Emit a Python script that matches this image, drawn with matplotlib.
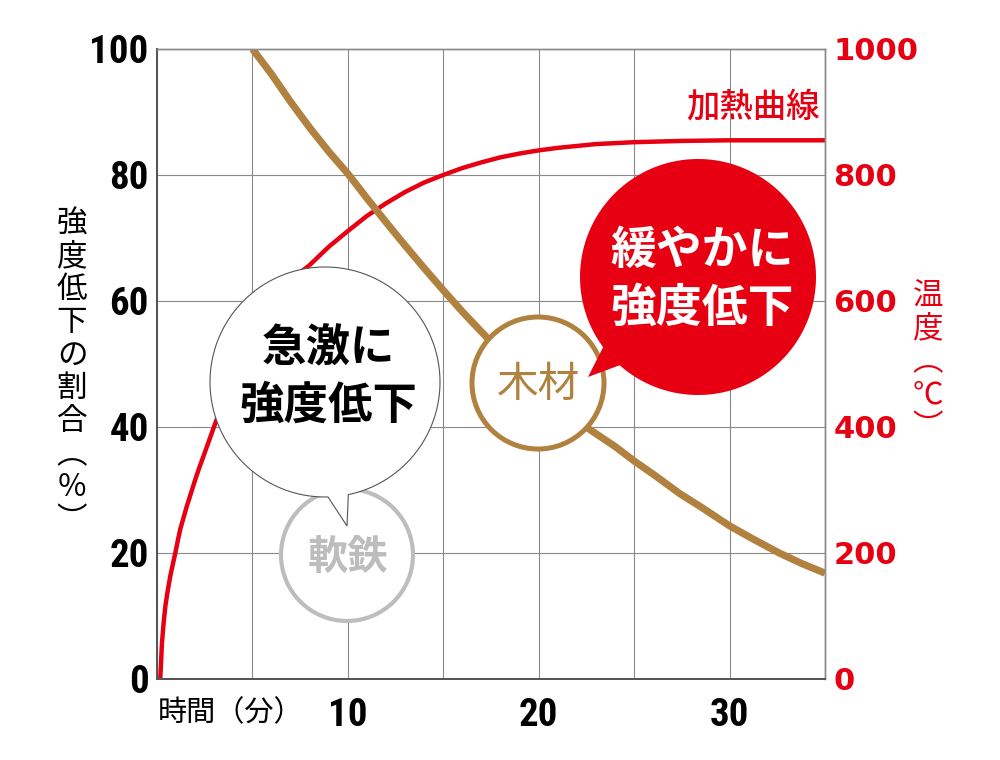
import numpy as np
import matplotlib

matplotlib.use("Agg")
import matplotlib.pyplot as plt
from matplotlib.patches import Circle, Polygon

plt.rcParams["font.family"] = ["Noto Sans CJK JP", "DejaVu Sans"]

# ---- data ----
wood_time = [5, 6, 7, 8, 9, 10, 11, 12, 13, 14, 15, 16, 17, 18, 19, 20, 21, 22,
             22.67, 24, 25, 26, 27.4, 28.5, 30, 31.3, 32.6, 33.8, 35]
wood_strength = [100, 96, 91.6, 87.5, 83.7, 80.2, 76.3, 72.5, 68.8, 65.2, 61.7, 58.3,
                 55.1, 52, 49.2, 46.5, 43.9, 41.2, 39.6, 36.9, 34.6, 32.5, 29.4,
                 27.3, 24.3, 22.1, 20.0, 18.3, 16.8]

heat_time = [0.17, 0.26, 0.35, 0.44, 0.55, 0.7, 0.85, 0.96, 1.1, 1.22, 1.4, 1.57,
             1.8, 2.0, 2.2, 2.44, 2.7, 2.96, 3.5, 4, 4.5, 5, 5.5, 6, 6.5, 7, 7.5, 8,
             9, 10, 11, 12, 13, 14, 15, 16, 17, 18, 19, 20, 21, 22, 23, 25, 27.5, 30, 35]
heat_temp = [0, 57, 90, 116, 138, 164, 185, 200, 221, 238, 257, 275,
             297, 316, 334, 354, 376, 398, 443, 481, 515, 545, 571, 594, 614, 631, 645, 657,
             686, 711, 735, 755, 773, 788, 800, 811, 820, 828, 834, 839, 843, 846, 849,
             852, 854, 855, 855]

x_ticks = [0, 5, 10, 15, 20, 25, 30, 35]
x_tick_labels = ["", "", "10", "", "20", "", "30", ""]
left_ticks = [0, 20, 40, 60, 80, 100]
right_ticks = [0, 200, 400, 600, 800, 1000]

left_label = ["強", "度", "低", "下", "の", "割", "合", "︵", "％", "︶"]
right_label = ["温", "度", "︵", "℃", "︶"]
x_label = "時間（分）"
heat_label = "加熱曲線"
steel_note = "急激に\n強度低下"
wood_note = "緩やかに\n強度低下"
steel_name = "軟鉄"
wood_name = "木材"

RED = "#e60012"
BROWN = "#b1823f"
GRAY = "#bdbdbd"
GRID = "#8a8a8a"
NUM_FONT = ["Liberation Sans Narrow", "Roboto Condensed", "Roboto", "DejaVu Sans"]


def bubble(cx, cy, r, a_from, a_to, tip, n=200):
    """Circle with a gap between a_from..a_to (deg) closed by a pointed tail."""
    ang = np.radians(np.linspace(a_to, a_from + 360, n))
    pts = np.column_stack([cx + r * np.cos(ang), cy + r * np.sin(ang)])
    return np.vstack([pts, [tip]])


fig = plt.figure(figsize=(10, 7.6), dpi=100)
rect = [0.157, 0.1066, 0.668, 0.829]

# temperature axis (bottom layer, carries the grid)
ax_t = fig.add_axes(rect)
ax_t.plot(heat_time, heat_temp, color=RED, lw=3.2, solid_capstyle="butt")
ax_t.set_xlim(0, 35)
ax_t.set_ylim(0, 1000)
ax_t.set_xticks(x_ticks, x_tick_labels, fontsize=28, fontweight="bold", family=NUM_FONT)
ax_t.set_yticks(right_ticks, [str(v) for v in right_ticks], fontsize=22,
                fontweight="bold", color=RED, family=["DejaVu Sans"])
ax_t.grid(True, color=GRID, lw=0.8)
ax_t.tick_params(axis="both", length=0)
ax_t.tick_params(axis="x", pad=13)
ax_t.tick_params(axis="y", pad=6)

# strength axis (top layer)
ax_w = ax_t.twinx()
ax_t.yaxis.tick_right()
ax_w.yaxis.tick_left()
ax_w.plot(wood_time, wood_strength, color=BROWN, lw=5.2, solid_capstyle="butt")
ax_w.set_ylim(0, 100)
ax_w.set_yticks(left_ticks, [str(v) for v in left_ticks], fontsize=28,
                fontweight="bold", family=NUM_FONT)
ax_w.tick_params(axis="y", length=0, pad=6)

for a in (ax_t, ax_w):
    for side in ("top", "right"):
        a.spines[side].set_color("#8a8a8a")
        a.spines[side].set_linewidth(1.0)
    for side in ("left", "bottom"):
        a.spines[side].set_color("#555555")
        a.spines[side].set_linewidth(1.3)

ax_w.text(0.9925, 0.906, heat_label, transform=ax_w.transAxes, ha="right", va="center",
          fontsize=24, color=RED, fontweight="medium")

# overlay in pixel units for the callouts
ov = fig.add_axes([0, 0, 1, 1], zorder=10)
ov.set_xlim(0, 1000)
ov.set_ylim(760, 0)
ov.axis("off")

ov.add_patch(Circle((347, 555), 66, facecolor="white", edgecolor=GRAY, lw=3.0))
ov.text(348, 557, steel_name, ha="center", va="center", fontsize=29,
        fontweight="bold", color=GRAY)

ov.add_patch(Polygon(bubble(325, 382, 115, 78.3, 88.5, (347, 526)), closed=True,
                     facecolor="white", edgecolor="#555555", lw=0.8))
ov.text(328, 377, steel_note, ha="center", va="center", fontsize=32,
        fontweight="bold", color="black", linespacing=1.3)

ov.add_patch(Circle((538, 383), 66, facecolor="white", edgecolor=BROWN, lw=3.6))
ov.text(539, 385, wood_name, ha="center", va="center", fontsize=30, color=BROWN)

ov.add_patch(Polygon(bubble(698, 277, 118, 131.6, 143.5, (588, 377)), closed=True,
                     facecolor=RED, edgecolor="none"))
ov.text(702, 280, wood_note, ha="center", va="center", fontsize=33,
        fontweight="bold", color="white", linespacing=1.32)

ov.text(72, 372, "\n".join(left_label), ha="center", va="center", fontsize=22,
        color="black", linespacing=1.08)
ov.text(928, 362, "\n".join(right_label), ha="center", va="center", fontsize=22,
        color=RED, linespacing=1.08)
ov.text(158, 713, x_label, ha="left", va="center", fontsize=21, color="black")

fig.savefig("out.png", dpi=100)
